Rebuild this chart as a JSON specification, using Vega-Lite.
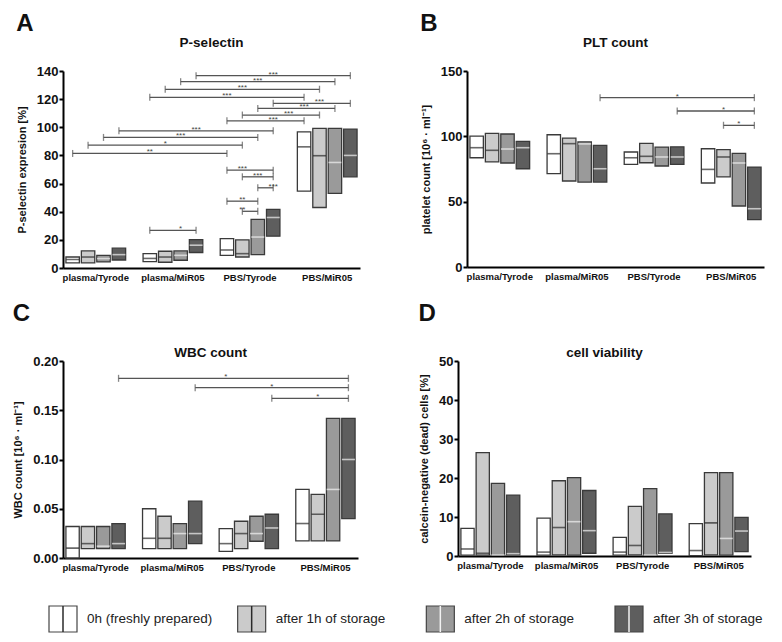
{
"$schema": "https://vega.github.io/schema/vega-lite/v6.json",
"background": "white",
"padding": {"left": 12, "top": 11, "right": 5, "bottom": 5},
"config": {
 "font": "Liberation Sans",
 "view": {"stroke": null},
 "axis": {"domainColor": "#000", "domainWidth": 2, "tickColor": "#000", "tickWidth": 2, "labelColor": "#111", "titleColor": "#111", "grid": false, "labelFont": "Liberation Sans", "titleFont": "Liberation Sans"},
 "axisX": {"ticks": false, "labelFontSize": 9.5, "labelFontWeight": "bold", "labelPadding": 4, "labelAngle": 0},
 "axisY": {"tickSize": 4, "labelFontSize": 13, "labelFontWeight": "bold", "labelPadding": 1, "labelOverlap": false, "titleFontSize": 11, "titleFontWeight": "bold", "titlePadding": 9},
 "title": {"font": "Liberation Sans", "fontWeight": "bold", "color": "#111"}
},
"datasets": {
 "bars": [
  {"p":"A","k":"plasma/Tyrode|0h","t":"0h","lo":3.6,"hi":7.8,"med":6.0},
  {"p":"A","k":"plasma/Tyrode|1h","t":"1h","lo":3.6,"hi":12.1,"med":7.8},
  {"p":"A","k":"plasma/Tyrode|2h","t":"2h","lo":4.3,"hi":9.0,"med":6.7},
  {"p":"A","k":"plasma/Tyrode|3h","t":"3h","lo":5.7,"hi":14.1,"med":9.5},
  {"p":"A","k":"plasma/MiR05|0h","t":"0h","lo":4.6,"hi":10.2,"med":6.8},
  {"p":"A","k":"plasma/MiR05|1h","t":"1h","lo":4.1,"hi":11.9,"med":7.8},
  {"p":"A","k":"plasma/MiR05|2h","t":"2h","lo":5.5,"hi":12.1,"med":9.0},
  {"p":"A","k":"plasma/MiR05|3h","t":"3h","lo":11.0,"hi":20.2,"med":16.2},
  {"p":"A","k":"PBS/Tyrode|0h","t":"0h","lo":9.0,"hi":20.9,"med":12.8},
  {"p":"A","k":"PBS/Tyrode|1h","t":"1h","lo":7.8,"hi":20.0,"med":10.2},
  {"p":"A","k":"PBS/Tyrode|2h","t":"2h","lo":9.5,"hi":34.6,"med":22.0},
  {"p":"A","k":"PBS/Tyrode|3h","t":"3h","lo":22.6,"hi":41.6,"med":35.9},
  {"p":"A","k":"PBS/MiR05|0h","t":"0h","lo":54.6,"hi":96.8,"med":86.1},
  {"p":"A","k":"PBS/MiR05|1h","t":"1h","lo":43.0,"hi":99.2,"med":79.8},
  {"p":"A","k":"PBS/MiR05|2h","t":"2h","lo":53.0,"hi":99.2,"med":75.0},
  {"p":"A","k":"PBS/MiR05|3h","t":"3h","lo":64.8,"hi":98.7,"med":80.0},
  {"p":"B","k":"plasma/Tyrode|0h","t":"0h","lo":83.6,"hi":100.2,"med":91.3},
  {"p":"B","k":"plasma/Tyrode|1h","t":"1h","lo":80.4,"hi":102.3,"med":89.3},
  {"p":"B","k":"plasma/Tyrode|2h","t":"2h","lo":79.6,"hi":101.8,"med":90.3},
  {"p":"B","k":"plasma/Tyrode|3h","t":"3h","lo":75.2,"hi":96.1,"med":91.3},
  {"p":"B","k":"plasma/MiR05|0h","t":"0h","lo":71.4,"hi":101.2,"med":86.7},
  {"p":"B","k":"plasma/MiR05|1h","t":"1h","lo":65.8,"hi":98.7,"med":94.4},
  {"p":"B","k":"plasma/MiR05|2h","t":"2h","lo":65.0,"hi":95.7,"med":94.2},
  {"p":"B","k":"plasma/MiR05|3h","t":"3h","lo":65.0,"hi":93.1,"med":75.2},
  {"p":"B","k":"PBS/Tyrode|0h","t":"0h","lo":78.5,"hi":88.0,"med":83.6},
  {"p":"B","k":"PBS/Tyrode|1h","t":"1h","lo":79.8,"hi":94.6,"med":84.7},
  {"p":"B","k":"PBS/Tyrode|2h","t":"2h","lo":77.3,"hi":91.8,"med":84.2},
  {"p":"B","k":"PBS/Tyrode|3h","t":"3h","lo":78.5,"hi":92.0,"med":84.2},
  {"p":"B","k":"PBS/MiR05|0h","t":"0h","lo":64.3,"hi":90.5,"med":74.7},
  {"p":"B","k":"PBS/MiR05|1h","t":"1h","lo":68.9,"hi":89.8,"med":84.2},
  {"p":"B","k":"PBS/MiR05|2h","t":"2h","lo":46.7,"hi":86.9,"med":79.6},
  {"p":"B","k":"PBS/MiR05|3h","t":"3h","lo":36.2,"hi":76.5,"med":44.6},
  {"p":"C","k":"plasma/Tyrode|0h","t":"0h","lo":0.0,"hi":0.032,"med":0.010},
  {"p":"C","k":"plasma/Tyrode|1h","t":"1h","lo":0.0095,"hi":0.032,"med":0.0146},
  {"p":"C","k":"plasma/Tyrode|2h","t":"2h","lo":0.0095,"hi":0.032,"med":0.012},
  {"p":"C","k":"plasma/Tyrode|3h","t":"3h","lo":0.0095,"hi":0.035,"med":0.0146},
  {"p":"C","k":"plasma/MiR05|0h","t":"0h","lo":0.0095,"hi":0.050,"med":0.020},
  {"p":"C","k":"plasma/MiR05|1h","t":"1h","lo":0.0095,"hi":0.0424,"med":0.020},
  {"p":"C","k":"plasma/MiR05|2h","t":"2h","lo":0.0095,"hi":0.035,"med":0.0248},
  {"p":"C","k":"plasma/MiR05|3h","t":"3h","lo":0.0146,"hi":0.0577,"med":0.0248},
  {"p":"C","k":"PBS/Tyrode|0h","t":"0h","lo":0.0068,"hi":0.0299,"med":0.0146},
  {"p":"C","k":"PBS/Tyrode|1h","t":"1h","lo":0.0095,"hi":0.0373,"med":0.0248},
  {"p":"C","k":"PBS/Tyrode|2h","t":"2h","lo":0.017,"hi":0.0424,"med":0.0248},
  {"p":"C","k":"PBS/Tyrode|3h","t":"3h","lo":0.0095,"hi":0.0444,"med":0.0305},
  {"p":"C","k":"PBS/MiR05|0h","t":"0h","lo":0.0173,"hi":0.0696,"med":0.035},
  {"p":"C","k":"PBS/MiR05|1h","t":"1h","lo":0.0173,"hi":0.0645,"med":0.0444},
  {"p":"C","k":"PBS/MiR05|2h","t":"2h","lo":0.0173,"hi":0.1418,"med":0.0696},
  {"p":"C","k":"PBS/MiR05|3h","t":"3h","lo":0.040,"hi":0.1418,"med":0.100},
  {"p":"D","k":"plasma/Tyrode|0h","t":"0h","lo":0.2,"hi":7.1,"med":1.8},
  {"p":"D","k":"plasma/Tyrode|1h","t":"1h","lo":0.2,"hi":26.5,"med":0.7},
  {"p":"D","k":"plasma/Tyrode|2h","t":"2h","lo":0.2,"hi":18.6,"med":0.3},
  {"p":"D","k":"plasma/Tyrode|3h","t":"3h","lo":0.3,"hi":15.6,"med":0.6},
  {"p":"D","k":"plasma/MiR05|0h","t":"0h","lo":0.2,"hi":9.7,"med":1.0},
  {"p":"D","k":"plasma/MiR05|1h","t":"1h","lo":0.3,"hi":19.3,"med":7.3},
  {"p":"D","k":"plasma/MiR05|2h","t":"2h","lo":0.2,"hi":20.1,"med":8.8},
  {"p":"D","k":"plasma/MiR05|3h","t":"3h","lo":0.7,"hi":16.8,"med":6.5},
  {"p":"D","k":"PBS/Tyrode|0h","t":"0h","lo":0.2,"hi":4.8,"med":1.0},
  {"p":"D","k":"PBS/Tyrode|1h","t":"1h","lo":0.3,"hi":12.7,"med":2.7},
  {"p":"D","k":"PBS/Tyrode|2h","t":"2h","lo":0.2,"hi":17.3,"med":0.3},
  {"p":"D","k":"PBS/Tyrode|3h","t":"3h","lo":0.7,"hi":10.8,"med":0.9},
  {"p":"D","k":"PBS/MiR05|0h","t":"0h","lo":0.1,"hi":8.3,"med":1.4},
  {"p":"D","k":"PBS/MiR05|1h","t":"1h","lo":0.3,"hi":21.4,"med":8.5},
  {"p":"D","k":"PBS/MiR05|2h","t":"2h","lo":0.2,"hi":21.4,"med":4.5},
  {"p":"D","k":"PBS/MiR05|3h","t":"3h","lo":1.1,"hi":9.9,"med":6.4}
 ],
 "brackets": [
  {"p":"A","from":"plasma/MiR05|3h","to":"PBS/MiR05|3h","y":136.7,"s":"***","at":"PBS/Tyrode|3h"},
  {"p":"A","from":"plasma/MiR05|2h","to":"PBS/MiR05|2h","y":132.4,"s":"***","at":"PBS/Tyrode|2h"},
  {"p":"A","from":"plasma/MiR05|1h","to":"PBS/MiR05|1h","y":127.0,"s":"***","at":"PBS/Tyrode|1h"},
  {"p":"A","from":"plasma/MiR05|0h","to":"PBS/MiR05|0h","y":121.3,"s":"***","at":"PBS/Tyrode|0h"},
  {"p":"A","from":"PBS/Tyrode|3h","to":"PBS/MiR05|3h","y":117.0,"s":"***","at":"PBS/MiR05|1h"},
  {"p":"A","from":"PBS/Tyrode|2h","to":"PBS/MiR05|2h","y":113.4,"s":"***","at":"PBS/MiR05|0h"},
  {"p":"A","from":"PBS/Tyrode|1h","to":"PBS/MiR05|1h","y":108.7,"s":"***","at":"gap3"},
  {"p":"A","from":"PBS/Tyrode|0h","to":"PBS/MiR05|0h","y":104.6,"s":"***","at":"PBS/Tyrode|3h"},
  {"p":"A","from":"plasma/Tyrode|3h","to":"PBS/Tyrode|3h","y":97.5,"s":"***","at":"plasma/MiR05|3h"},
  {"p":"A","from":"plasma/Tyrode|2h","to":"PBS/Tyrode|2h","y":92.8,"s":"***","at":"plasma/MiR05|2h"},
  {"p":"A","from":"plasma/Tyrode|1h","to":"PBS/Tyrode|1h","y":87.3,"s":"*","at":"plasma/MiR05|1h"},
  {"p":"A","from":"plasma/Tyrode|0h","to":"PBS/Tyrode|0h","y":81.4,"s":"**","at":"plasma/MiR05|0h"},
  {"p":"A","from":"PBS/Tyrode|0h","to":"PBS/Tyrode|3h","y":69.5,"s":"***","at":"PBS/Tyrode|1h"},
  {"p":"A","from":"PBS/Tyrode|1h","to":"PBS/Tyrode|3h","y":64.8,"s":"***","at":"PBS/Tyrode|2h"},
  {"p":"A","from":"PBS/Tyrode|2h","to":"PBS/Tyrode|3h","y":57.0,"s":"***","at":"PBS/Tyrode|3h"},
  {"p":"A","from":"PBS/Tyrode|0h","to":"PBS/Tyrode|2h","y":47.5,"s":"**","at":"PBS/Tyrode|1h"},
  {"p":"A","from":"PBS/Tyrode|1h","to":"PBS/Tyrode|2h","y":40.3,"s":"**","at":"PBS/Tyrode|1h"},
  {"p":"A","from":"plasma/MiR05|0h","to":"plasma/MiR05|3h","y":26.8,"s":"*","at":"plasma/MiR05|2h"},
  {"p":"B","from":"plasma/MiR05|3h","to":"PBS/MiR05|3h","y":129.6,"s":"*","at":"PBS/Tyrode|3h"},
  {"p":"B","from":"PBS/Tyrode|3h","to":"PBS/MiR05|3h","y":119.4,"s":"*","at":"PBS/MiR05|1h"},
  {"p":"B","from":"PBS/MiR05|1h","to":"PBS/MiR05|3h","y":108.4,"s":"*","at":"PBS/MiR05|2h"},
  {"p":"C","from":"plasma/Tyrode|3h","to":"PBS/MiR05|3h","y":0.1824,"s":"*","at":"PBS/Tyrode|0h"},
  {"p":"C","from":"plasma/MiR05|3h","to":"PBS/MiR05|3h","y":0.1729,"s":"*","at":"PBS/Tyrode|3h"},
  {"p":"C","from":"PBS/Tyrode|3h","to":"PBS/MiR05|3h","y":0.1621,"s":"*","at":"PBS/MiR05|1h"}
 ],
 "legend": [
  {"t":"0h","label":"0h (freshly prepared)"},
  {"t":"1h","label":"after 1h of storage"},
  {"t":"2h","label":"after 2h of storage"},
  {"t":"3h","label":"after 3h of storage"}
 ]
},
"columns": 1,
"spacing": 33,
"concat": [
 {"spacing": 19,
  "vconcat": [
 {"hconcat": [
  {"title": {"text": "A", "anchor": "start", "fontSize": 24, "offset": 0},
   "vconcat": [{
    "title": {"text": "P-selectin", "fontSize": 13.5, "offset": 16},
    "width": 297, "height": 197,
    "layer": [
     {"data": {"name": "bars"}, "transform": [{"filter": "datum.p === 'A'"}],
      "mark": {"type": "bar", "stroke": "#3a3a3a", "strokeWidth": 1.3},
      "encoding": {
       "x": {"field": "k", "type": "nominal", "title": null, "scale": {"domain": ["plasma/Tyrode|0h","plasma/Tyrode|1h","plasma/Tyrode|2h","plasma/Tyrode|3h","gap1","plasma/MiR05|0h","plasma/MiR05|1h","plasma/MiR05|2h","plasma/MiR05|3h","gap2","PBS/Tyrode|0h","PBS/Tyrode|1h","PBS/Tyrode|2h","PBS/Tyrode|3h","gap3","PBS/MiR05|0h","PBS/MiR05|1h","PBS/MiR05|2h","PBS/MiR05|3h"], "paddingInner": 0.13, "paddingOuter": 0.19},
        "axis": {"values": ["plasma/Tyrode|1h","plasma/MiR05|1h","PBS/Tyrode|1h","PBS/MiR05|1h"], "labelExpr": "split(datum.value,'|')[0]", "labelOffset": 7.7}},
       "y": {"field": "lo", "type": "quantitative", "title": "P-selectin expresion [%]", "scale": {"domain": [0, 140], "nice": false}, "axis": {"values": [0,20,40,60,80,100,120,140], "labelOverlap": false}},
       "y2": {"field": "hi"},
       "fill": {"field": "t", "type": "nominal", "scale": {"domain": ["0h","1h","2h","3h"], "range": ["#ffffff","#cbcbcb","#9a9a9a","#5e5e5e"]}, "legend": null}
      }},
     {"data": {"name": "bars"}, "transform": [{"filter": "datum.p === 'A'"}],
      "mark": {"type": "tick", "size": 13, "thickness": 1.6},
      "encoding": {
       "x": {"field": "k", "type": "nominal", "title": null, "scale": {"domain": ["plasma/Tyrode|0h","plasma/Tyrode|1h","plasma/Tyrode|2h","plasma/Tyrode|3h","gap1","plasma/MiR05|0h","plasma/MiR05|1h","plasma/MiR05|2h","plasma/MiR05|3h","gap2","PBS/Tyrode|0h","PBS/Tyrode|1h","PBS/Tyrode|2h","PBS/Tyrode|3h","gap3","PBS/MiR05|0h","PBS/MiR05|1h","PBS/MiR05|2h","PBS/MiR05|3h"], "paddingInner": 0.13, "paddingOuter": 0.19}},
       "y": {"field": "med", "type": "quantitative", "title": "P-selectin expresion [%]", "scale": {"domain": [0, 140], "nice": false}, "axis": {"values": [0,20,40,60,80,100,120,140], "labelOverlap": false}},
       "color": {"field": "t", "type": "nominal", "scale": {"domain": ["0h","1h","2h","3h"], "range": ["#2a2a2a","#2a2a2a","#f2f2f2","#f2f2f2"]}, "legend": null}
      }},
     {"data": {"name": "brackets"}, "transform": [{"filter": "datum.p === 'A'"}],
      "mark": {"type": "rule", "color": "#555", "strokeWidth": 1.3},
      "encoding": {
       "x": {"field": "from", "type": "nominal", "title": null, "scale": {"domain": ["plasma/Tyrode|0h","plasma/Tyrode|1h","plasma/Tyrode|2h","plasma/Tyrode|3h","gap1","plasma/MiR05|0h","plasma/MiR05|1h","plasma/MiR05|2h","plasma/MiR05|3h","gap2","PBS/Tyrode|0h","PBS/Tyrode|1h","PBS/Tyrode|2h","PBS/Tyrode|3h","gap3","PBS/MiR05|0h","PBS/MiR05|1h","PBS/MiR05|2h","PBS/MiR05|3h"], "paddingInner": 0.13, "paddingOuter": 0.19}},
       "x2": {"field": "to"},
       "y": {"field": "y", "type": "quantitative", "title": "P-selectin expresion [%]", "scale": {"domain": [0, 140], "nice": false}, "axis": {"values": [0,20,40,60,80,100,120,140], "labelOverlap": false}}
      }},
     {"data": {"name": "brackets"}, "transform": [{"filter": "datum.p === 'A'"}, {"fold": ["from", "to"]}],
      "mark": {"type": "tick", "orient": "vertical", "size": 7, "thickness": 1.3, "color": "#555"},
      "encoding": {
       "x": {"field": "value", "type": "nominal", "title": null, "scale": {"domain": ["plasma/Tyrode|0h","plasma/Tyrode|1h","plasma/Tyrode|2h","plasma/Tyrode|3h","gap1","plasma/MiR05|0h","plasma/MiR05|1h","plasma/MiR05|2h","plasma/MiR05|3h","gap2","PBS/Tyrode|0h","PBS/Tyrode|1h","PBS/Tyrode|2h","PBS/Tyrode|3h","gap3","PBS/MiR05|0h","PBS/MiR05|1h","PBS/MiR05|2h","PBS/MiR05|3h"], "paddingInner": 0.13, "paddingOuter": 0.19}},
       "y": {"field": "y", "type": "quantitative", "title": "P-selectin expresion [%]", "scale": {"domain": [0, 140], "nice": false}, "axis": {"values": [0,20,40,60,80,100,120,140], "labelOverlap": false}}
      }},
     {"data": {"name": "brackets"}, "transform": [{"filter": "datum.p === 'A'"}],
      "mark": {"type": "text", "fontSize": 8, "color": "#444", "baseline": "alphabetic", "dy": 1},
      "encoding": {
       "x": {"field": "at", "type": "nominal", "title": null, "scale": {"domain": ["plasma/Tyrode|0h","plasma/Tyrode|1h","plasma/Tyrode|2h","plasma/Tyrode|3h","gap1","plasma/MiR05|0h","plasma/MiR05|1h","plasma/MiR05|2h","plasma/MiR05|3h","gap2","PBS/Tyrode|0h","PBS/Tyrode|1h","PBS/Tyrode|2h","PBS/Tyrode|3h","gap3","PBS/MiR05|0h","PBS/MiR05|1h","PBS/MiR05|2h","PBS/MiR05|3h"], "paddingInner": 0.13, "paddingOuter": 0.19}},
       "y": {"field": "y", "type": "quantitative", "title": "P-selectin expresion [%]", "scale": {"domain": [0, 140], "nice": false}, "axis": {"values": [0,20,40,60,80,100,120,140], "labelOverlap": false}},
       "text": {"field": "s"}
      }}
    ]
   }]
  },
  {"title": {"text": "B", "anchor": "start", "fontSize": 24, "offset": 0},
   "vconcat": [{
    "title": {"text": "PLT count", "fontSize": 13.5, "offset": 16},
    "width": 297, "height": 196,
    "layer": [
     {"data": {"name": "bars"}, "transform": [{"filter": "datum.p === 'B'"}],
      "mark": {"type": "bar", "stroke": "#3a3a3a", "strokeWidth": 1.3},
      "encoding": {
       "x": {"field": "k", "type": "nominal", "title": null, "scale": {"domain": ["plasma/Tyrode|0h","plasma/Tyrode|1h","plasma/Tyrode|2h","plasma/Tyrode|3h","gap1","plasma/MiR05|0h","plasma/MiR05|1h","plasma/MiR05|2h","plasma/MiR05|3h","gap2","PBS/Tyrode|0h","PBS/Tyrode|1h","PBS/Tyrode|2h","PBS/Tyrode|3h","gap3","PBS/MiR05|0h","PBS/MiR05|1h","PBS/MiR05|2h","PBS/MiR05|3h"], "paddingInner": 0.13, "paddingOuter": 0.19},
        "axis": {"values": ["plasma/Tyrode|1h","plasma/MiR05|1h","PBS/Tyrode|1h","PBS/MiR05|1h"], "labelExpr": "split(datum.value,'|')[0]", "labelOffset": 7.7}},
       "y": {"field": "lo", "type": "quantitative", "title": "platelet count [10⁶ · ml⁻¹]", "scale": {"domain": [0, 150], "nice": false}, "axis": {"values": [0,50,100,150], "labelOverlap": false}},
       "y2": {"field": "hi"},
       "fill": {"field": "t", "type": "nominal", "scale": {"domain": ["0h","1h","2h","3h"], "range": ["#ffffff","#cbcbcb","#9a9a9a","#5e5e5e"]}, "legend": null}
      }},
     {"data": {"name": "bars"}, "transform": [{"filter": "datum.p === 'B'"}],
      "mark": {"type": "tick", "size": 13, "thickness": 1.6},
      "encoding": {
       "x": {"field": "k", "type": "nominal", "title": null, "scale": {"domain": ["plasma/Tyrode|0h","plasma/Tyrode|1h","plasma/Tyrode|2h","plasma/Tyrode|3h","gap1","plasma/MiR05|0h","plasma/MiR05|1h","plasma/MiR05|2h","plasma/MiR05|3h","gap2","PBS/Tyrode|0h","PBS/Tyrode|1h","PBS/Tyrode|2h","PBS/Tyrode|3h","gap3","PBS/MiR05|0h","PBS/MiR05|1h","PBS/MiR05|2h","PBS/MiR05|3h"], "paddingInner": 0.13, "paddingOuter": 0.19}},
       "y": {"field": "med", "type": "quantitative", "title": "platelet count [10⁶ · ml⁻¹]", "scale": {"domain": [0, 150], "nice": false}, "axis": {"values": [0,50,100,150], "labelOverlap": false}},
       "color": {"field": "t", "type": "nominal", "scale": {"domain": ["0h","1h","2h","3h"], "range": ["#2a2a2a","#2a2a2a","#f2f2f2","#f2f2f2"]}, "legend": null}
      }},
     {"data": {"name": "brackets"}, "transform": [{"filter": "datum.p === 'B'"}],
      "mark": {"type": "rule", "color": "#555", "strokeWidth": 1.3},
      "encoding": {
       "x": {"field": "from", "type": "nominal", "title": null, "scale": {"domain": ["plasma/Tyrode|0h","plasma/Tyrode|1h","plasma/Tyrode|2h","plasma/Tyrode|3h","gap1","plasma/MiR05|0h","plasma/MiR05|1h","plasma/MiR05|2h","plasma/MiR05|3h","gap2","PBS/Tyrode|0h","PBS/Tyrode|1h","PBS/Tyrode|2h","PBS/Tyrode|3h","gap3","PBS/MiR05|0h","PBS/MiR05|1h","PBS/MiR05|2h","PBS/MiR05|3h"], "paddingInner": 0.13, "paddingOuter": 0.19}},
       "x2": {"field": "to"},
       "y": {"field": "y", "type": "quantitative", "title": "platelet count [10⁶ · ml⁻¹]", "scale": {"domain": [0, 150], "nice": false}, "axis": {"values": [0,50,100,150], "labelOverlap": false}}
      }},
     {"data": {"name": "brackets"}, "transform": [{"filter": "datum.p === 'B'"}, {"fold": ["from", "to"]}],
      "mark": {"type": "tick", "orient": "vertical", "size": 7, "thickness": 1.3, "color": "#555"},
      "encoding": {
       "x": {"field": "value", "type": "nominal", "title": null, "scale": {"domain": ["plasma/Tyrode|0h","plasma/Tyrode|1h","plasma/Tyrode|2h","plasma/Tyrode|3h","gap1","plasma/MiR05|0h","plasma/MiR05|1h","plasma/MiR05|2h","plasma/MiR05|3h","gap2","PBS/Tyrode|0h","PBS/Tyrode|1h","PBS/Tyrode|2h","PBS/Tyrode|3h","gap3","PBS/MiR05|0h","PBS/MiR05|1h","PBS/MiR05|2h","PBS/MiR05|3h"], "paddingInner": 0.13, "paddingOuter": 0.19}},
       "y": {"field": "y", "type": "quantitative", "title": "platelet count [10⁶ · ml⁻¹]", "scale": {"domain": [0, 150], "nice": false}, "axis": {"values": [0,50,100,150], "labelOverlap": false}}
      }},
     {"data": {"name": "brackets"}, "transform": [{"filter": "datum.p === 'B'"}],
      "mark": {"type": "text", "fontSize": 8, "color": "#444", "baseline": "alphabetic", "dy": 1},
      "encoding": {
       "x": {"field": "at", "type": "nominal", "title": null, "scale": {"domain": ["plasma/Tyrode|0h","plasma/Tyrode|1h","plasma/Tyrode|2h","plasma/Tyrode|3h","gap1","plasma/MiR05|0h","plasma/MiR05|1h","plasma/MiR05|2h","plasma/MiR05|3h","gap2","PBS/Tyrode|0h","PBS/Tyrode|1h","PBS/Tyrode|2h","PBS/Tyrode|3h","gap3","PBS/MiR05|0h","PBS/MiR05|1h","PBS/MiR05|2h","PBS/MiR05|3h"], "paddingInner": 0.13, "paddingOuter": 0.19}},
       "y": {"field": "y", "type": "quantitative", "title": "platelet count [10⁶ · ml⁻¹]", "scale": {"domain": [0, 150], "nice": false}, "axis": {"values": [0,50,100,150], "labelOverlap": false}},
       "text": {"field": "s"}
      }}
    ]
   }]
  }
 ], "spacing": 60},
 {"hconcat": [
  {"title": {"text": "C", "anchor": "start", "fontSize": 24, "offset": 20},
   "vconcat": [{
    "title": {"text": "WBC count", "fontSize": 13.5, "offset": -4},
    "width": 295, "height": 197,
    "layer": [
     {"data": {"name": "bars"}, "transform": [{"filter": "datum.p === 'C'"}],
      "mark": {"type": "bar", "stroke": "#3a3a3a", "strokeWidth": 1.3},
      "encoding": {
       "x": {"field": "k", "type": "nominal", "title": null, "scale": {"domain": ["plasma/Tyrode|0h","plasma/Tyrode|1h","plasma/Tyrode|2h","plasma/Tyrode|3h","gap1","plasma/MiR05|0h","plasma/MiR05|1h","plasma/MiR05|2h","plasma/MiR05|3h","gap2","PBS/Tyrode|0h","PBS/Tyrode|1h","PBS/Tyrode|2h","PBS/Tyrode|3h","gap3","PBS/MiR05|0h","PBS/MiR05|1h","PBS/MiR05|2h","PBS/MiR05|3h"], "paddingInner": 0.13, "paddingOuter": 0.19},
        "axis": {"values": ["plasma/Tyrode|1h","plasma/MiR05|1h","PBS/Tyrode|1h","PBS/MiR05|1h"], "labelExpr": "split(datum.value,'|')[0]", "labelOffset": 7.7}},
       "y": {"field": "lo", "type": "quantitative", "title": "WBC count [10⁶ · ml⁻¹]", "scale": {"domain": [0, 0.2], "nice": false}, "axis": {"values": [0,0.05,0.1,0.15,0.2], "format": ".2f", "labelOverlap": false}},
       "y2": {"field": "hi"},
       "fill": {"field": "t", "type": "nominal", "scale": {"domain": ["0h","1h","2h","3h"], "range": ["#ffffff","#cbcbcb","#9a9a9a","#5e5e5e"]}, "legend": null}
      }},
     {"data": {"name": "bars"}, "transform": [{"filter": "datum.p === 'C'"}],
      "mark": {"type": "tick", "size": 13, "thickness": 1.6},
      "encoding": {
       "x": {"field": "k", "type": "nominal", "title": null, "scale": {"domain": ["plasma/Tyrode|0h","plasma/Tyrode|1h","plasma/Tyrode|2h","plasma/Tyrode|3h","gap1","plasma/MiR05|0h","plasma/MiR05|1h","plasma/MiR05|2h","plasma/MiR05|3h","gap2","PBS/Tyrode|0h","PBS/Tyrode|1h","PBS/Tyrode|2h","PBS/Tyrode|3h","gap3","PBS/MiR05|0h","PBS/MiR05|1h","PBS/MiR05|2h","PBS/MiR05|3h"], "paddingInner": 0.13, "paddingOuter": 0.19}},
       "y": {"field": "med", "type": "quantitative", "title": "WBC count [10⁶ · ml⁻¹]", "scale": {"domain": [0, 0.2], "nice": false}, "axis": {"values": [0,0.05,0.1,0.15,0.2], "format": ".2f", "labelOverlap": false}},
       "color": {"field": "t", "type": "nominal", "scale": {"domain": ["0h","1h","2h","3h"], "range": ["#2a2a2a","#2a2a2a","#f2f2f2","#f2f2f2"]}, "legend": null}
      }},
     {"data": {"name": "brackets"}, "transform": [{"filter": "datum.p === 'C'"}],
      "mark": {"type": "rule", "color": "#555", "strokeWidth": 1.3},
      "encoding": {
       "x": {"field": "from", "type": "nominal", "title": null, "scale": {"domain": ["plasma/Tyrode|0h","plasma/Tyrode|1h","plasma/Tyrode|2h","plasma/Tyrode|3h","gap1","plasma/MiR05|0h","plasma/MiR05|1h","plasma/MiR05|2h","plasma/MiR05|3h","gap2","PBS/Tyrode|0h","PBS/Tyrode|1h","PBS/Tyrode|2h","PBS/Tyrode|3h","gap3","PBS/MiR05|0h","PBS/MiR05|1h","PBS/MiR05|2h","PBS/MiR05|3h"], "paddingInner": 0.13, "paddingOuter": 0.19}},
       "x2": {"field": "to"},
       "y": {"field": "y", "type": "quantitative", "title": "WBC count [10⁶ · ml⁻¹]", "scale": {"domain": [0, 0.2], "nice": false}, "axis": {"values": [0,0.05,0.1,0.15,0.2], "format": ".2f", "labelOverlap": false}}
      }},
     {"data": {"name": "brackets"}, "transform": [{"filter": "datum.p === 'C'"}, {"fold": ["from", "to"]}],
      "mark": {"type": "tick", "orient": "vertical", "size": 7, "thickness": 1.3, "color": "#555"},
      "encoding": {
       "x": {"field": "value", "type": "nominal", "title": null, "scale": {"domain": ["plasma/Tyrode|0h","plasma/Tyrode|1h","plasma/Tyrode|2h","plasma/Tyrode|3h","gap1","plasma/MiR05|0h","plasma/MiR05|1h","plasma/MiR05|2h","plasma/MiR05|3h","gap2","PBS/Tyrode|0h","PBS/Tyrode|1h","PBS/Tyrode|2h","PBS/Tyrode|3h","gap3","PBS/MiR05|0h","PBS/MiR05|1h","PBS/MiR05|2h","PBS/MiR05|3h"], "paddingInner": 0.13, "paddingOuter": 0.19}},
       "y": {"field": "y", "type": "quantitative", "title": "WBC count [10⁶ · ml⁻¹]", "scale": {"domain": [0, 0.2], "nice": false}, "axis": {"values": [0,0.05,0.1,0.15,0.2], "format": ".2f", "labelOverlap": false}}
      }},
     {"data": {"name": "brackets"}, "transform": [{"filter": "datum.p === 'C'"}],
      "mark": {"type": "text", "fontSize": 8, "color": "#444", "baseline": "alphabetic", "dy": 1},
      "encoding": {
       "x": {"field": "at", "type": "nominal", "title": null, "scale": {"domain": ["plasma/Tyrode|0h","plasma/Tyrode|1h","plasma/Tyrode|2h","plasma/Tyrode|3h","gap1","plasma/MiR05|0h","plasma/MiR05|1h","plasma/MiR05|2h","plasma/MiR05|3h","gap2","PBS/Tyrode|0h","PBS/Tyrode|1h","PBS/Tyrode|2h","PBS/Tyrode|3h","gap3","PBS/MiR05|0h","PBS/MiR05|1h","PBS/MiR05|2h","PBS/MiR05|3h"], "paddingInner": 0.13, "paddingOuter": 0.19}},
       "y": {"field": "y", "type": "quantitative", "title": "WBC count [10⁶ · ml⁻¹]", "scale": {"domain": [0, 0.2], "nice": false}, "axis": {"values": [0,0.05,0.1,0.15,0.2], "format": ".2f", "labelOverlap": false}},
       "text": {"field": "s"}
      }}
    ]
   }]
  },
  {"title": {"text": "D", "anchor": "start", "fontSize": 24, "offset": 20},
   "vconcat": [{
    "title": {"text": "cell viability", "fontSize": 13.5, "offset": -4},
    "width": 293, "height": 195,
    "layer": [
     {"data": {"name": "bars"}, "transform": [{"filter": "datum.p === 'D'"}],
      "mark": {"type": "bar", "stroke": "#3a3a3a", "strokeWidth": 1.3},
      "encoding": {
       "x": {"field": "k", "type": "nominal", "title": null, "scale": {"domain": ["plasma/Tyrode|0h","plasma/Tyrode|1h","plasma/Tyrode|2h","plasma/Tyrode|3h","gap1","plasma/MiR05|0h","plasma/MiR05|1h","plasma/MiR05|2h","plasma/MiR05|3h","gap2","PBS/Tyrode|0h","PBS/Tyrode|1h","PBS/Tyrode|2h","PBS/Tyrode|3h","gap3","PBS/MiR05|0h","PBS/MiR05|1h","PBS/MiR05|2h","PBS/MiR05|3h"], "paddingInner": 0.13, "paddingOuter": 0.19},
        "axis": {"values": ["plasma/Tyrode|1h","plasma/MiR05|1h","PBS/Tyrode|1h","PBS/MiR05|1h"], "labelExpr": "split(datum.value,'|')[0]", "labelOffset": 7.7}},
       "y": {"field": "lo", "type": "quantitative", "title": "calcein-negative (dead) cells [%]", "scale": {"domain": [0, 50], "nice": false}, "axis": {"values": [0,10,20,30,40,50], "labelOverlap": false}},
       "y2": {"field": "hi"},
       "fill": {"field": "t", "type": "nominal", "scale": {"domain": ["0h","1h","2h","3h"], "range": ["#ffffff","#cbcbcb","#9a9a9a","#5e5e5e"]}, "legend": null}
      }},
     {"data": {"name": "bars"}, "transform": [{"filter": "datum.p === 'D'"}],
      "mark": {"type": "tick", "size": 13, "thickness": 1.6},
      "encoding": {
       "x": {"field": "k", "type": "nominal", "title": null, "scale": {"domain": ["plasma/Tyrode|0h","plasma/Tyrode|1h","plasma/Tyrode|2h","plasma/Tyrode|3h","gap1","plasma/MiR05|0h","plasma/MiR05|1h","plasma/MiR05|2h","plasma/MiR05|3h","gap2","PBS/Tyrode|0h","PBS/Tyrode|1h","PBS/Tyrode|2h","PBS/Tyrode|3h","gap3","PBS/MiR05|0h","PBS/MiR05|1h","PBS/MiR05|2h","PBS/MiR05|3h"], "paddingInner": 0.13, "paddingOuter": 0.19}},
       "y": {"field": "med", "type": "quantitative", "title": "calcein-negative (dead) cells [%]", "scale": {"domain": [0, 50], "nice": false}, "axis": {"values": [0,10,20,30,40,50], "labelOverlap": false}},
       "color": {"field": "t", "type": "nominal", "scale": {"domain": ["0h","1h","2h","3h"], "range": ["#2a2a2a","#2a2a2a","#f2f2f2","#f2f2f2"]}, "legend": null}
      }}
    ]
   }]
  }
 ], "spacing": 60}
 ]},
 {"data": {"name": "legend"},
  "width": 566, "height": 26,
  "layer": [
   {"mark": {"type": "bar", "width": 28, "stroke": "#444", "strokeWidth": 1.2},
    "encoding": {
     "x": {"field": "t", "type": "nominal", "scale": {"type": "point", "padding": 0}, "axis": null},
     "fill": {"field": "t", "type": "nominal", "scale": {"domain": ["0h","1h","2h","3h"], "range": ["#ffffff","#cbcbcb","#9a9a9a","#5e5e5e"]}, "legend": null}
    }},
   {"mark": {"type": "rule", "strokeWidth": 1.5},
    "encoding": {
     "x": {"field": "t", "type": "nominal", "scale": {"type": "point", "padding": 0}, "axis": null},
     "color": {"field": "t", "type": "nominal", "scale": {"domain": ["0h","1h","2h","3h"], "range": ["#2a2a2a","#2a2a2a","#f2f2f2","#f2f2f2"]}, "legend": null}
    }},
   {"mark": {"type": "text", "align": "left", "dx": 24, "fontSize": 13.5, "color": "#222"},
    "encoding": {
     "x": {"field": "t", "type": "nominal", "scale": {"type": "point", "padding": 0}, "axis": null},
     "text": {"field": "label"}
    }}
  ]
 }
]
}
